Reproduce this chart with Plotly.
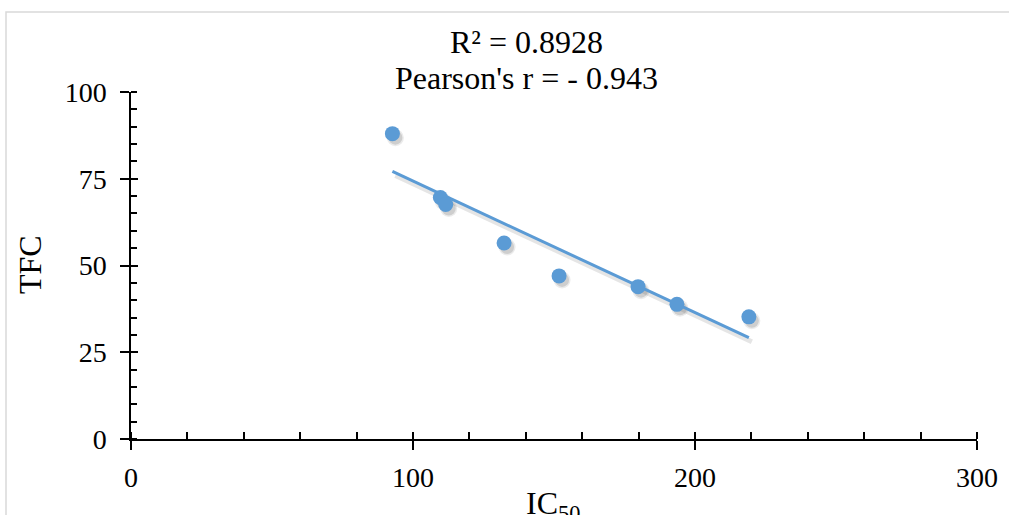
import numpy as np
import plotly.graph_objects as go

# Data
ic50 = [92.7, 109.7, 111.6, 132.3, 151.8, 179.8, 193.6, 219.1]
tfc = [88.0, 69.6, 67.6, 56.5, 47.0, 43.9, 38.8, 35.2]
x_ticks = [0, 100, 200, 300]
y_ticks = [0, 25, 50, 75, 100]
title_lines = ["R² = 0.8928", "Pearson's r = - 0.943"]

W, H = 1009, 515
ML, MR, MT, MB = 131, 32, 92, 76
pw, ph = W - ML - MR, H - MT - MB
XR, YR = [0, 300], [0, 100]

BLUE = "#5B9BD5"
FONT = "Liberation Serif"

# linear trendline derived from the data
k, b = np.polyfit(ic50, tfc, 1)
tx = np.array([min(ic50), max(ic50)])
ty = k * tx + b

fig = go.Figure()

# anchor trace for the main (labelled) axes
fig.add_trace(go.Scatter(x=ic50, y=tfc, mode="markers", xaxis="x", yaxis="y",
                         marker=dict(size=1, color="rgba(0,0,0,0)"),
                         hoverinfo="skip", showlegend=False))

# shadow (same data, on axes shifted by a few pixels)
dx, dy = 3, 4
sxr = [XR[0] - dx * (XR[1] - XR[0]) / pw, XR[1] - dx * (XR[1] - XR[0]) / pw]
syr = [YR[0] + dy * (YR[1] - YR[0]) / ph, YR[1] + dy * (YR[1] - YR[0]) / ph]
fig.add_trace(go.Scatter(x=tx, y=ty, mode="lines", xaxis="x2", yaxis="y2",
                         line=dict(color="rgba(0,0,0,0.10)", width=5),
                         hoverinfo="skip", showlegend=False))
fig.add_trace(go.Scatter(x=ic50, y=tfc, mode="markers", xaxis="x2", yaxis="y2",
                         marker=dict(size=17, color="rgba(0,0,0,0.08)", line=dict(width=0)),
                         hoverinfo="skip", showlegend=False))
fig.add_trace(go.Scatter(x=ic50, y=tfc, mode="markers", xaxis="x2", yaxis="y2",
                         marker=dict(size=14, color="rgba(0,0,0,0.12)", line=dict(width=0)),
                         hoverinfo="skip", showlegend=False))

# real marks on the top overlay axes (same ranges as the main axes)
fig.add_trace(go.Scatter(x=tx, y=ty, mode="lines", xaxis="x3", yaxis="y3",
                         line=dict(color=BLUE, width=3), showlegend=False))
fig.add_trace(go.Scatter(x=ic50, y=tfc, mode="markers", xaxis="x3", yaxis="y3",
                         marker=dict(size=15, color=BLUE, opacity=1, line=dict(width=0)),
                         showlegend=False))

axis_common = dict(showgrid=False, zeroline=False, linecolor="#000000", linewidth=1.5,
                   tickcolor="#000000", tickwidth=1.5, automargin=False,
                   tickfont=dict(family=FONT, size=28, color="#000000"))

fig.update_layout(
    width=W, height=H,
    margin=dict(l=ML, r=MR, t=MT, b=MB),
    paper_bgcolor="white", plot_bgcolor="rgba(0,0,0,0)",
    xaxis=dict(range=XR, tickvals=x_ticks, ticks="outside", ticklen=9, showline=True,
               minor=dict(dtick=20, ticks="inside", ticklen=7, tickcolor="#000000", tickwidth=1.5),
               ticklabelstandoff=4, **axis_common),
    yaxis=dict(range=YR, tickvals=y_ticks, ticks="outside", ticklen=9, showline=True,
               minor=dict(dtick=5, ticks="inside", ticklen=6, tickcolor="#000000", tickwidth=1.5),
               ticklabelstandoff=8, **axis_common),
    xaxis2=dict(range=sxr, overlaying="x", visible=False),
    yaxis2=dict(range=syr, overlaying="y", visible=False),
    xaxis3=dict(range=XR, overlaying="x", tickvals=x_ticks, ticks="inside", ticklen=7,
                showticklabels=False, showline=False, showgrid=False, zeroline=False,
                tickcolor="#000000", tickwidth=1.5, anchor="y3", side="bottom"),
    yaxis3=dict(range=YR, overlaying="y", tickvals=y_ticks, ticks="inside", ticklen=7,
                showticklabels=False, showline=False, showgrid=False, zeroline=False,
                tickcolor="#000000", tickwidth=1.5, anchor="x3", side="left"),
    showlegend=False,
)

# outer chart border
fig.add_shape(type="rect", xref="paper", yref="paper",
              x0=(6 - ML) / pw, x1=1.5, y0=-0.5, y1=(H - MB - 12) / ph,
              line=dict(color="#D9D9D9", width=1.5), fillcolor="rgba(0,0,0,0)", layer="below")

# title lines
for txt, ypx in zip(title_lines, [42, 78]):
    fig.add_annotation(text=txt, xref="paper", yref="paper",
                       x=(526 - ML) / pw, y=(H - MB - ypx) / ph, showarrow=False,
                       xanchor="center", yanchor="middle",
                       font=dict(family=FONT, size=32, color="#000000"))

# axis titles
fig.add_annotation(text="TFC", xref="paper", yref="paper",
                   x=(30 - ML) / pw, y=(H - MB - 265) / ph, showarrow=False, textangle=-90,
                   xanchor="center", yanchor="middle",
                   font=dict(family=FONT, size=32, color="#000000"))
fig.add_annotation(text="IC<sub>50</sub>", xref="paper", yref="paper",
                   x=(553 - ML) / pw, y=(H - MB - 505) / ph, showarrow=False,
                   xanchor="center", yanchor="middle",
                   font=dict(family=FONT, size=32, color="#000000"))

fig.write_html("out.html", config={"displayModeBar": False},
               post_script="document.body.style.margin='0';document.body.style.overflow='hidden';")
